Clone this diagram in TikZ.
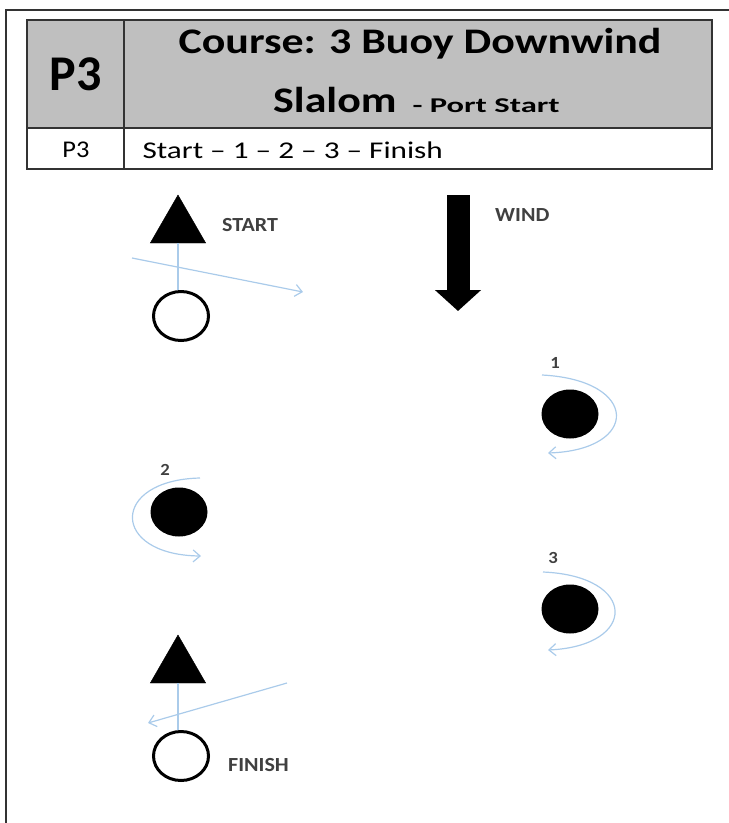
\documentclass[tikz,border=0pt]{standalone}
\usepackage{fontspec}
\setmainfont{Carlito}
\newfontfamily\widefont[FakeStretch=1.22]{Carlito}
\newfontfamily\rowfont[FakeStretch=1.3]{Carlito}
\newfontfamily\portfont[FakeStretch=1.55]{Carlito}
\newfontfamily\tagfont[FakeStretch=1.1]{Carlito}
\usetikzlibrary{shapes.geometric,arrows.meta}
\definecolor{pathblue}{RGB}{170,203,234}
\definecolor{headgray}{RGB}{191,191,191}
\definecolor{labelgray}{RGB}{64,64,64}
\begin{document}
\begin{tikzpicture}
    [
    x=1pt,y=-1pt,
    flag/.style={regular polygon,regular polygon sides=3,fill=black,draw=black,inner sep=0pt,minimum size=64pt},
    ring/.style={ellipse,draw=black,line width=3pt,inner sep=0pt,minimum width=55pt,minimum height=49pt},
    buoy/.style={ellipse,fill=black,inner sep=0pt,minimum width=57pt,minimum height=49pt},
    tag/.style={font=\tagfont\bfseries\fontsize{20}{24}\selectfont,text=labelgray,inner sep=0pt},
    num/.style={font=\tagfont\bfseries\fontsize{17}{20}\selectfont,text=labelgray,inner sep=0pt},
    track/.style={pathblue,line width=1.2pt,-{Straight Barb[length=7pt,width=12pt]}}
    ]
    \useasboundingbox (0,0) rectangle (729,823);
    % frame and table
    \draw [line width=1.5pt,black!80] (6,823) -- (6,10) -- (729,10);
    \fill [headgray] (27,20) rectangle (712,128);
    \draw [line width=1.5pt,black!80] (27,20) rectangle (712,169);
    \draw [line width=1.5pt,black!80] (27,128) -- (712,128);
    \draw [line width=1.5pt,black!80] (124,20) -- (124,169);
    \node (code) at (75.5,74) [font=\bfseries\fontsize{50}{60}\selectfont] {P3};
    \node (title) at (420,44) [font=\widefont\bfseries\fontsize{36}{43}\selectfont] {Course: 3 Buoy Downwind};
    \node (subtitle) at (273,112) [anchor=base west,inner sep=0pt,font=\widefont\bfseries\fontsize{36}{43}\selectfont] {Slalom\hspace{16pt}{\portfont\fontsize{21}{26}\selectfont - Port Start}};
    \node (code2) at (76,150) [font=\tagfont\fontsize{24}{28}\selectfont] {P3};
    \node (order) at (139,150) [anchor=west,font=\rowfont\fontsize{24}{28}\selectfont] {Start \textendash{} 1 \textendash{} 2 \textendash{} 3 \textendash{} Finish};
    % start
    \node (st) at (178,227) [flag] {};
    \node (sr) at (181,316) [ring] {};
    \node (stl) at (222,225) [tag,anchor=west] {START};
    \draw [pathblue,line width=1.2pt] (st.south) -- (st.south |- sr.north);
    \coordinate (sa) at (132,258);
    \coordinate (sb) at (303,292);
    \draw [track] (sa) -- (sb);
    % wind
    \coordinate (wa) at (458,195);
    \coordinate (wb) at (458,311);
    \draw [line width=23pt,-{Triangle[length=21pt,width=45pt]}] (wa) -- (wb);
    \node (wl) at (495,215) [tag,anchor=west] {WIND};
    % buoys
    \node (b1) at (570,414) [buoy] {};
    \node (n1) at (555,363) [num] {1};
    \draw [track] (542,375) .. controls (640,380) and (640,450) .. (548,453);
    \node (b2) at (179,512) [buoy] {};
    \node (n2) at (165,470) [num] {2};
    \draw [track] (200,478) .. controls (110,480) and (110,555) .. (201,556);
    \node (b3) at (570,609) [buoy] {};
    \node (n3) at (553,558) [num] {3};
    \draw [track] (543,572) .. controls (638,576) and (638,646) .. (548,650);
    % finish
    \node (ft) at (178,667) [flag] {};
    \node (fr) at (181,756) [ring] {};
    \node (ftl) at (228,765) [tag,anchor=west] {FINISH};
    \draw [pathblue,line width=1.2pt] (ft.south) -- (ft.south |- fr.north);
    \coordinate (fa) at (287,683);
    \coordinate (fb) at (148,723);
    \draw [track] (fa) -- (fb);
\end{tikzpicture}
\end{document}
